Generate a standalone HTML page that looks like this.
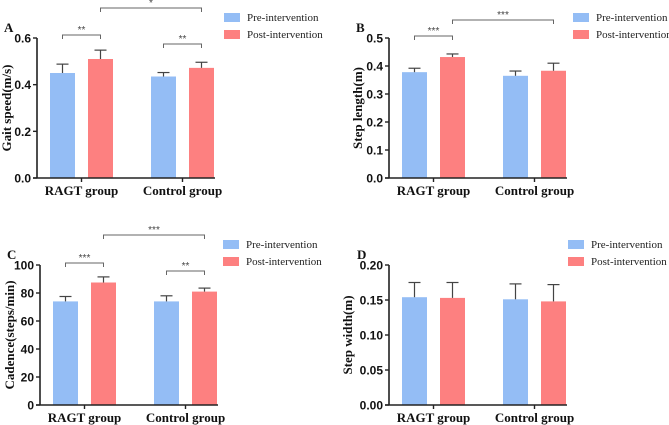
<!DOCTYPE html>
<html><head><meta charset="utf-8"><style>
body{margin:0;background:#fff}
svg{display:block}
</style></head><body>
<svg id="c" width="669" height="425" viewBox="0 0 669 425"></svg>
<script>
const categories=["RAGT group","Control group"];
const seriesNames=["Pre-intervention","Post-intervention"];
const aPre=[0.45,0.435], aPreErr=[0.038,0.017], aPost=[0.51,0.472], aPostErr=[0.038,0.024];
const bPre=[0.378,0.365], bPreErr=[0.014,0.017], bPost=[0.432,0.383], bPostErr=[0.011,0.027];
const cPre=[74,74], cPreErr=[3.5,4], cPost=[87.5,81], cPostErr=[4,2.5];
const dPre=[0.154,0.151], dPreErr=[0.021,0.022], dPost=[0.153,0.148], dPostErr=[0.022,0.024];
const aTicks=["0.0","0.2","0.4","0.6"], bTicks=["0.0","0.1","0.2","0.3","0.4","0.5"];
const cTicks=["0","20","40","60","80","100"], dTicks=["0.00","0.05","0.10","0.15","0.20"];
const aSig=["**","**","*"], bSig=["***",null,"***"], cSig=["***","**","***"], dSig=[null,null,null];
const colors=["#94bdf5","#fd8080"];
const NS="http://www.w3.org/2000/svg";
const SANS='font-family:"Liberation Sans",Arial,sans-serif;';
const SERIF='font-family:"Liberation Serif","Times New Roman",serif;';
const svg=document.getElementById('c');
function el(t,a,p){const e=document.createElementNS(NS,t);for(const k in a)e.setAttribute(k,a[k]);(p||svg).appendChild(e);return e;}
function panel(o){
  const g=el('g',{});
  
  
  const max=parseFloat(o.ticks[o.ticks.length-1]);
  const y=v=>o.y0-(v/max)*(o.y0-o.yTop);
  const offs=[[13,51],[114,152]];const bw=25;
  const series=[[o.pre,o.preE],[o.post,o.postE]];
  categories.forEach((c,ci)=>{
    series.forEach((s,si)=>{
      const x=o.ax+offs[ci][si], v=s[0][ci], e=s[1][ci];
      const r=el('rect',{x:x,y:y(v),width:bw,height:o.y0-y(v),fill:colors[si]},g);
      
      
      const cx=x+bw/2;
      el('line',{x1:cx,x2:cx,y1:y(v),y2:y(v+e),stroke:'#444','stroke-width':1.2},g);
      el('line',{x1:cx-6,x2:cx+6,y1:y(v+e),y2:y(v+e),stroke:'#444','stroke-width':1.2},g);
    });
  });
  el('line',{x1:o.ax,x2:o.ax,y1:o.yTop,y2:o.y0,stroke:'#222','stroke-width':1.6},g);
  el('line',{x1:o.ax-4,x2:o.ax+178,y1:o.y0,y2:o.y0,stroke:'#222','stroke-width':1.6},g);
  o.ticks.forEach(t=>{const yy=y(parseFloat(t));
    el('line',{x1:o.ax-4,x2:o.ax,y1:yy,y2:yy,stroke:'#222','stroke-width':1.4},g);
    const tx=el('text',{x:o.ax-6,y:yy+4.5,'text-anchor':'end',style:SANS+'font-size:12px;font-weight:bold;fill:#111'},g);tx.textContent=t;});
  categories.forEach((c,ci)=>{const cx=o.ax+offs[ci][0]+(offs[ci][1]+bw-offs[ci][0])/2;
    el('line',{x1:cx,x2:cx,y1:o.y0,y2:o.y0+4,stroke:'#222','stroke-width':1.4},g);
    const tx=el('text',{x:cx,y:o.y0+17,'text-anchor':'middle',style:SERIF+'font-size:13px;font-weight:bold;fill:#111'},g);tx.textContent=c;
    });
  const yt=el('text',{x:0,y:0,transform:`translate(${o.tx},${(o.yTop+o.y0)/2}) rotate(-90)`,'text-anchor':'middle',style:SERIF+'font-size:13px;font-weight:bold;fill:#111'},g);
  yt.textContent=o.title;
  const lt=el('text',{x:o.lp[0],y:o.lp[1],style:SERIF+'font-size:13px;font-weight:bold;fill:#111'},g);lt.textContent=o.letter;
  const br=(x1,x2,yy,s)=>{el('path',{d:`M${x1} ${yy+4}V${yy}H${x2}V${yy+4}`,fill:'none',stroke:'#666','stroke-width':1},g);
    const t=el('text',{x:(x1+x2)/2,y:yy-2,'text-anchor':'middle',style:SANS+'font-size:10px;fill:#444'},g);t.textContent=s;};
  const c0=o.ax+offs[0][0]+bw/2,c1=o.ax+offs[0][1]+bw/2,c2=o.ax+offs[1][0]+bw/2,c3=o.ax+offs[1][1]+bw/2;
  if(o.sig[0])br(c0,c1,o.br[0],o.sig[0]);
  if(o.sig[1])br(c2,c3,o.br[1],o.sig[1]);
  if(o.sig[2])br(c1,c3,o.br[2],o.sig[2]);
  seriesNames.forEach((n,i)=>{const ly=o.leg[1]+i*17;
    const r=el('rect',{x:o.leg[0],y:ly-4,width:16,height:9,fill:colors[i]},g);
    
    const t=el('text',{x:o.leg[0]+23,y:ly+4,style:SERIF+'font-size:11px;fill:#222'},g);t.textContent=n;
    });
}
panel({letter:'A',ax:37,yTop:38,y0:178,ticks:aTicks,pre:aPre,preE:aPreErr,post:aPost,postE:aPostErr,title:'Gait speed(m/s)',tx:11,lp:[4,32],sig:aSig,br:[35,44,8],leg:[224,17]});
panel({letter:'B',ax:389,yTop:38,y0:178,ticks:bTicks,pre:bPre,preE:bPreErr,post:bPost,postE:bPostErr,title:'Step length(m)',tx:362,lp:[356,32],sig:bSig,br:[36,0,20],leg:[573,17]});
panel({letter:'C',ax:40,yTop:265,y0:405,ticks:cTicks,pre:cPre,preE:cPreErr,post:cPost,postE:cPostErr,title:'Cadence(steps/min)',tx:14,lp:[7,259],sig:cSig,br:[263,271,235],leg:[223,244]});
panel({letter:'D',ax:389,yTop:265,y0:405,ticks:dTicks,pre:dPre,preE:dPreErr,post:dPost,postE:dPostErr,title:'Step width(m)',tx:352,lp:[357,259],sig:dSig,br:[0,0,0],leg:[568,244]});
</script>
</body></html>
